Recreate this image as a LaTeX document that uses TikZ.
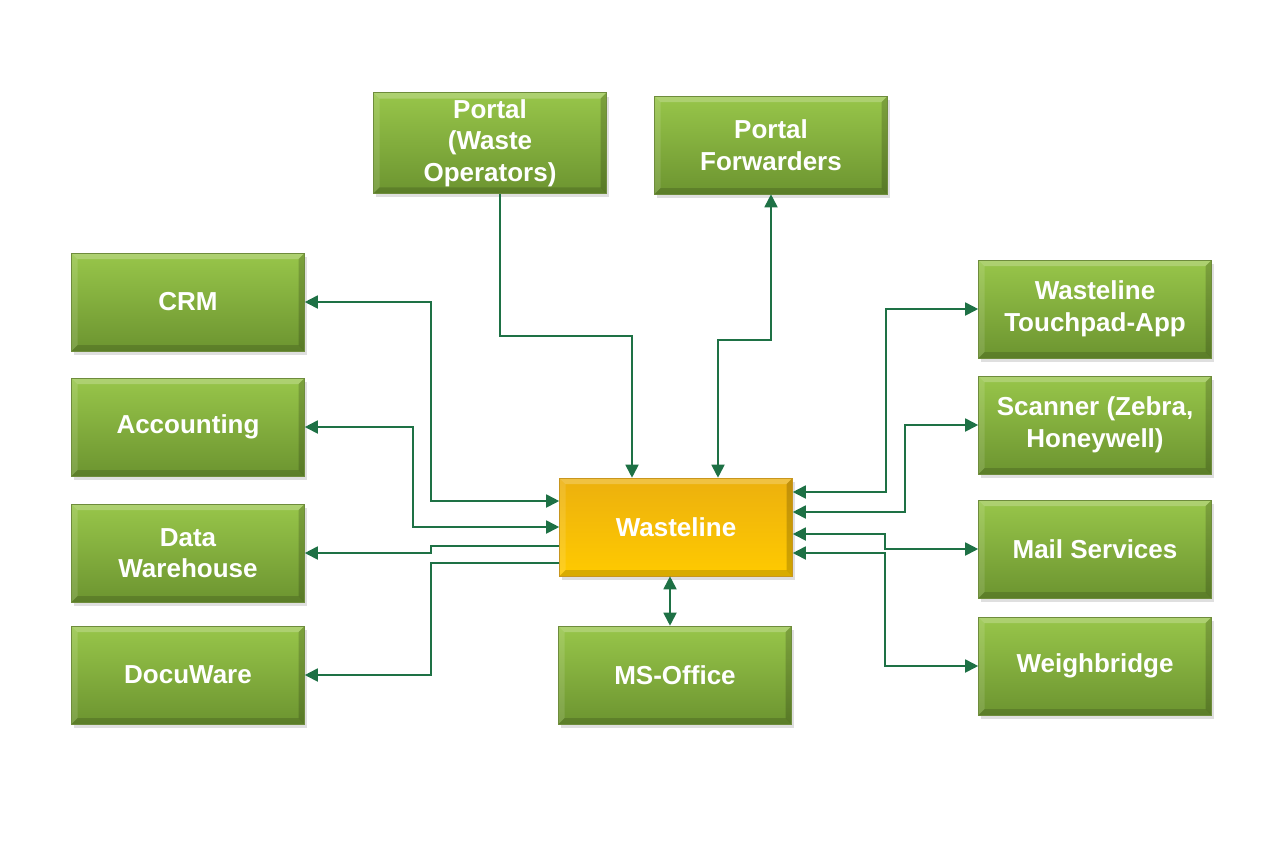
\documentclass[tikz,border=0pt]{standalone}
\usepackage{fontspec}
\setmainfont{Liberation Sans}
\usetikzlibrary{arrows.meta,shadows}

\definecolor{boxtop}{RGB}{152,198,74}
\definecolor{boxbot}{RGB}{108,148,48}
\definecolor{boxrim}{RGB}{110,140,60}
\definecolor{coretop}{RGB}{236,176,14}
\definecolor{corebot}{RGB}{255,202,0}
\definecolor{corerim}{RGB}{200,150,30}
\definecolor{linkgreen}{RGB}{30,113,69}

\tikzset{
  bevel/.style={path picture={
    \fill[white,opacity=0.22] (path picture bounding box.north west)
      -- (path picture bounding box.north east)
      -- ([xshift=-3pt,yshift=-3pt]path picture bounding box.north east)
      -- ([xshift=3pt,yshift=-3pt]path picture bounding box.north west) -- cycle;
    \fill[white,opacity=0.12] (path picture bounding box.north west)
      -- ([xshift=3pt,yshift=-3pt]path picture bounding box.north west)
      -- ([xshift=3pt,yshift=3pt]path picture bounding box.south west)
      -- (path picture bounding box.south west) -- cycle;
    \fill[black,opacity=0.18] (path picture bounding box.north east)
      -- ([xshift=-3pt,yshift=-3pt]path picture bounding box.north east)
      -- ([xshift=-3pt,yshift=3pt]path picture bounding box.south east)
      -- (path picture bounding box.south east) -- cycle;
    \fill[black,opacity=0.15] (path picture bounding box.south west)
      -- ([xshift=3pt,yshift=3pt]path picture bounding box.south west)
      -- ([xshift=-3pt,yshift=3pt]path picture bounding box.south east)
      -- (path picture bounding box.south east) -- cycle;
  }},
  sysbox/.style={draw=boxrim, line width=0.3pt, top color=boxtop, bottom color=boxbot,
    bevel, minimum width=116.5pt, minimum height=49pt, align=center, text=white,
    font=\fontsize{13}{15.75}\selectfont\bfseries,
    drop shadow={shadow xshift=1.2pt, shadow yshift=-2pt, opacity=0.25}},
  corebox/.style={sysbox, draw=corerim, top color=coretop, bottom color=corebot},
  link/.style={draw=linkgreen, line width=0.9pt,
    >={Triangle[length=6.5pt,width=6.5pt]}}
}

\begin{document}
\begin{tikzpicture}[x=0.5pt, y=-0.5pt]
  \useasboundingbox (0,0) rectangle (1276,858);

  % centre and top row
  \node[corebox] (wl) at (676,527) {Wasteline};
  \node[sysbox] (pwo) at (490,143) {Portal\\(Waste\\Operators)};
  \node[sysbox] (pfw) at (771,145) {Portal\\Forwarders};
  \node[sysbox] (mso) at (675,675) {MS-Office};

  % left column
  \node[sysbox] (crm) at (188,302) {CRM};
  \node[sysbox] (acc) at (188,427) {Accounting};
  \node[sysbox] (dwh) at (188,553) {Data\\Warehouse};
  \node[sysbox] (dcw) at (188,675) {DocuWare};

  % right column
  \node[sysbox] (tpa) at (1095,309) {Wasteline\\Touchpad-App};
  \node[sysbox] (scn) at (1095,425) {Scanner (Zebra,\\Honeywell)};
  \node[sysbox] (mail) at (1095,549) {Mail Services};
  \node[sysbox] (wbr) at (1095,666) {Weighbridge};

  % links
  \draw[link,<->] (crm.east) -| (431,501) -- (wl.west |- 0,501);
  \draw[link,<->] (acc.east) -| (413,527) -- (wl.west);
  \draw[link,->] (wl.west |- 0,546) -- (431,546) |- (dwh.east);
  \draw[link,->] (wl.west |- 0,563) -- (431,563) |- (dcw.east);

  \draw[link,->] (pwo.south -| 500,0) -- (500,336) -| (wl.north -| 632,0);
  \draw[link,<->] (wl.north -| 718,0) -- (718,340) -| (pfw.south);
  \draw[link,<->] (wl.south -| 670,0) -- (mso.north -| 670,0);

  \draw[link,<->] (wl.east |- 0,492) -- (886,492) |- (tpa.west);
  \draw[link,<->] (wl.east |- 0,512) -- (905,512) |- (scn.west);
  \draw[link,<->] (wl.east |- 0,534) -- (885,534) |- (mail.west);
  \draw[link,<->] (wl.east |- 0,553) -- (885,553) |- (wbr.west);
\end{tikzpicture}
\end{document}
